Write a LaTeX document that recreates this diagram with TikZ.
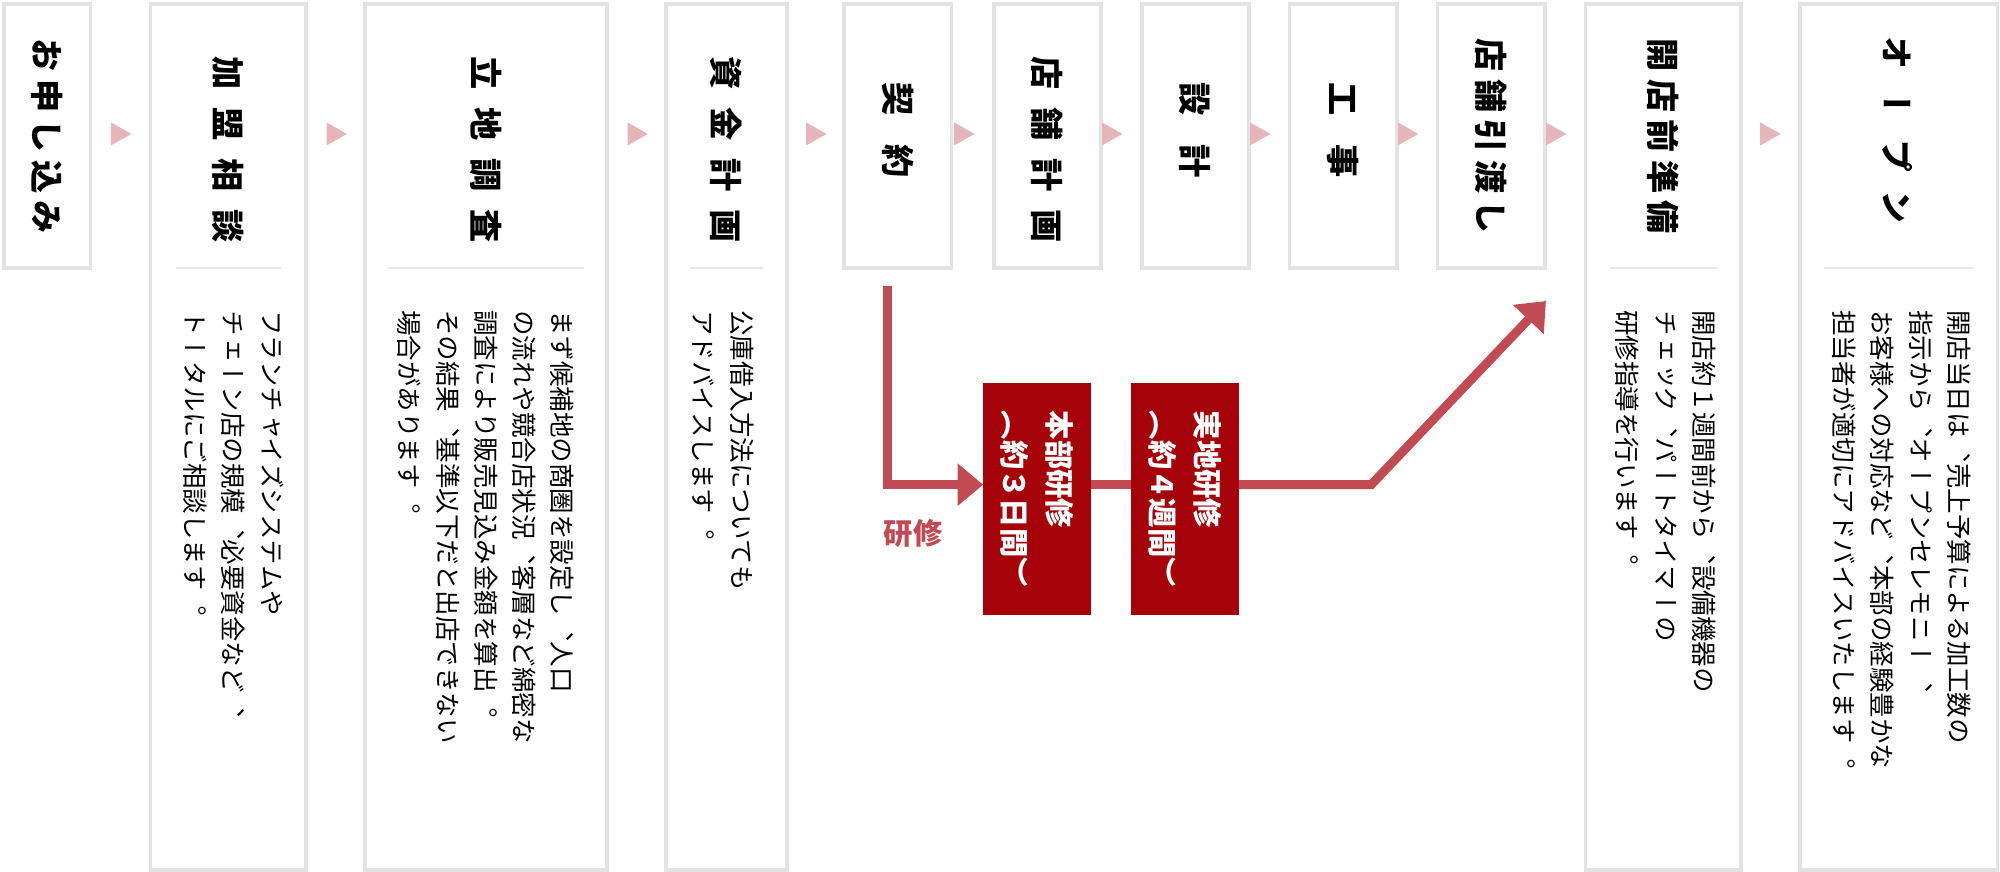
\documentclass[tikz,border=0pt]{standalone}
\usepackage{fontspec}
\setmainfont{Noto Sans CJK JP}[Vertical=RotatedGlyphs]
\newfontfamily\hfont{Noto Sans CJK JP}
\usetikzlibrary{arrows.meta}
\definecolor{boxgray}{HTML}{E3E3E3}
\definecolor{sepgray}{HTML}{E6E6E6}
\definecolor{tri}{HTML}{E6B5BA}
\definecolor{redline}{HTML}{C24A52}
\definecolor{darkred}{HTML}{A50309}
\tikzset{
  stepbox/.style={draw=boxgray,line width=3pt,fill=white},
  head/.style={rotate=-90,anchor=center,inner sep=0pt,font=\fontsize{26}{30}\selectfont\bfseries},
  body/.style={rotate=-90,anchor=west,inner sep=0pt,align=left,font=\fontsize{20}{30}\selectfont},
  redbox/.style={fill=darkred,draw=none},
  redtext/.style={rotate=-90,anchor=center,inner sep=0pt,align=left,text=white,font=\fontsize{23}{35}\selectfont\bfseries},
  redarrow/.style={draw=redline,line width=7pt,-{Triangle[length=20pt,width=32pt]}},
  redplain/.style={draw=redline,line width=7pt},
}
\newcommand{\ls}[2]{{\addfontfeature{LetterSpace=#1}#2}}
\begin{document}
\begin{tikzpicture}[x=1pt,y=-1pt]
\useasboundingbox (0,0) rectangle (1568,683.6);
% boxes
\draw[stepbox] (3,3) rectangle (71,210);
\draw[stepbox] (118,3) rectangle (240,682);
\draw[stepbox] (286,3) rectangle (476,682);
\draw[stepbox] (522,3) rectangle (617,682);
\draw[stepbox] (662,3) rectangle (746,210);
\draw[stepbox] (779,3) rectangle (863,210);
\draw[stepbox] (895,3) rectangle (979,210);
\draw[stepbox] (1011,3) rectangle (1095,210);
\draw[stepbox] (1127,3) rectangle (1211,210);
\draw[stepbox] (1243,3) rectangle (1365,682);
\draw[stepbox] (1411,3) rectangle (1566,682);
% separators
\foreach \a/\b in {138/220,304/458,541/598,1262/1346,1430/1547}
  \draw[sepgray,line width=1pt] (\a,210) -- (\b,210);
% pink triangles
\foreach \x in {87,256,492,632,748,864,980,1096,1212,1380}
  \fill[tri] (\x,96) -- (\x+16,105) -- (\x,114) -- cycle;
% headings
\node[head] (h1) at (37,107) {\ls{22}{お申し込み}};
\node[head] (h2) at (179,117) {\ls{54}{加盟相談}};
\node[head] (h3) at (381,117) {\ls{54}{立地調査}};
\node[head] (h4) at (569,117) {\ls{54}{資金計画}};
\node[head] (h5) at (704,102) {\ls{90}{契約}};
\node[head] (h6) at (821,117) {\ls{54}{店舗計画}};
\node[head] (h7) at (937,102) {\ls{90}{設計}};
\node[head] (h8) at (1053,102) {\ls{90}{工事}};
\node[head] (h9) at (1169,107) {\ls{22}{店舗引渡し}};
\node[head] (h10) at (1304,107) {\ls{22}{開店前準備}};
\node[head] (h11) at (1488,102) {\ls{54}{オープン}};
% bodies
\node[body] (b2) at (183,243) {フランチャイズシステムや\\チェーン店の規模、必要資金など、\\トータルにご相談します。};
\node[body] (b3) at (381,243) {まず候補地の商圏を設定し、人口\\の流れや競合店状況、客層など綿密な\\調査により販売見込み金額を算出。\\その結果、基準以下だと出店できない\\場合があります。};
\node[body] (b4) at (567,243) {公庫借入方法についても\\アドバイスします。};
\node[body] (b10) at (1306,243) {開店約１週間前から、設備機器の\\チェック、パートタイマーの\\研修指導を行います。};
\node[body] (b11) at (1491,243) {開店当日は、売上予算による加工数の\\指示から、オープンセレモニー、\\お客様への対応など、本部の経験豊かな\\担当者が適切にアドバイスいたします。};
% training
\node[redbox,minimum width=84pt,minimum height=182pt] (t1) at (813,391) {};
\node[redtext] at (t1.center) {本部研修\\（約３日間）};
\node[redbox,minimum width=84pt,minimum height=182pt] (t2) at (929,391) {};
\node[redtext] at (t2.center) {実地研修\\（約４週間）};
\coordinate (s) at (696,224);
\coordinate (c1) at (696,380);
\coordinate (k) at (1075,380);
\coordinate (e) at (1212,236);
\draw[redarrow] (s) -- (c1) -- (t1.west |- c1);
\draw[redplain] (t1.east |- c1) -- (t2.west |- c1);
\draw[redarrow] (t2.east |- c1) -- (k) -- (e);
\node[text=redline,font=\hfont\fontsize{23}{26}\selectfont\bfseries,inner sep=0pt] (lbl) at (716,418) {研修};
\end{tikzpicture}
\end{document}
